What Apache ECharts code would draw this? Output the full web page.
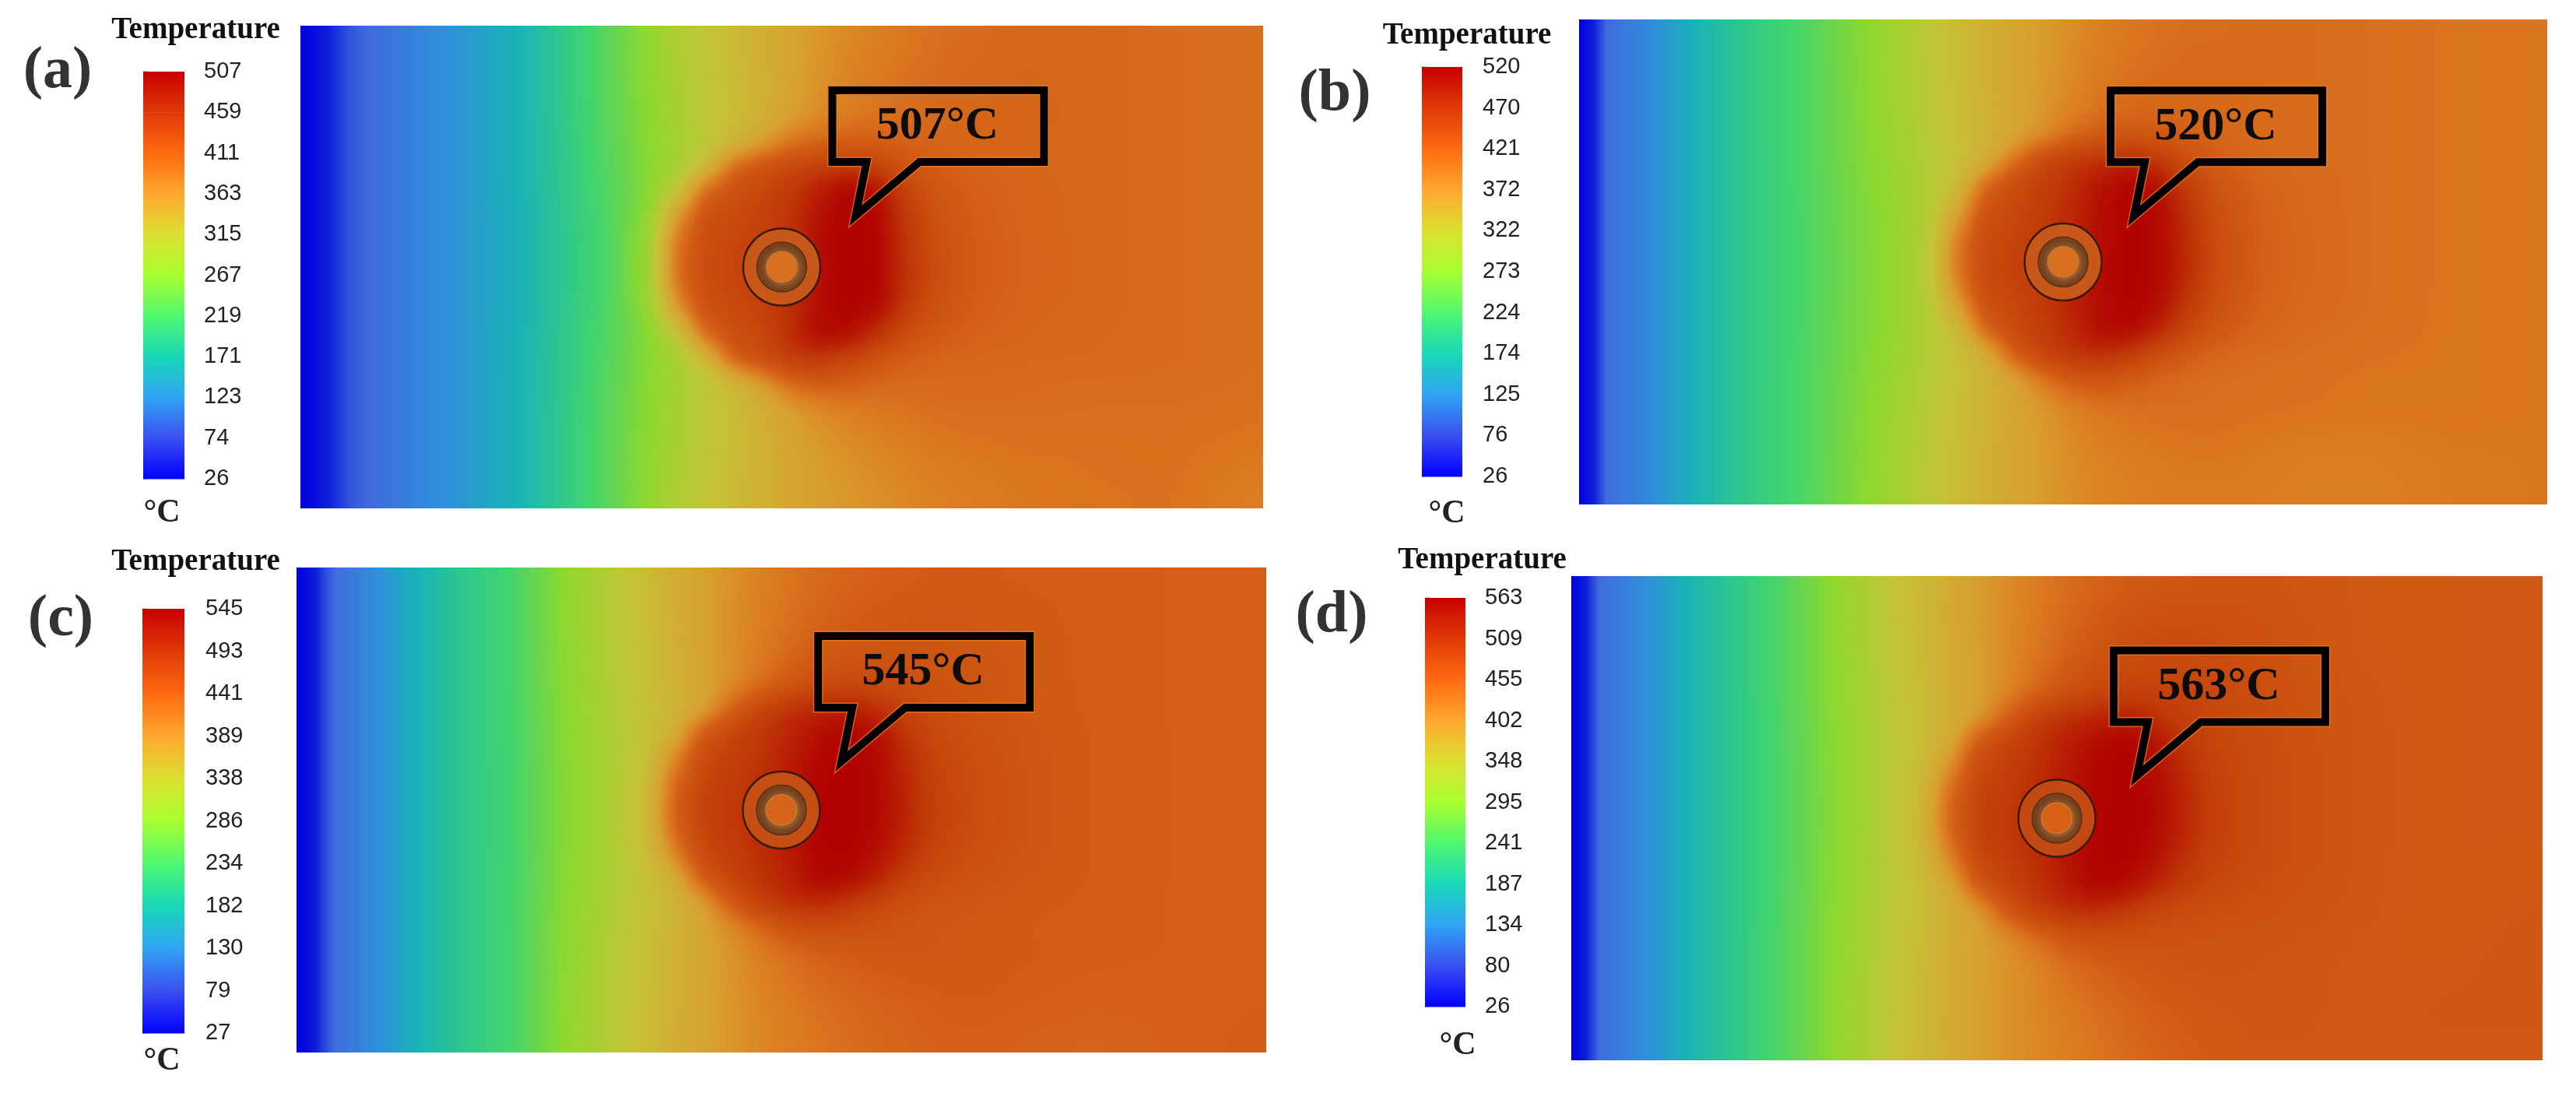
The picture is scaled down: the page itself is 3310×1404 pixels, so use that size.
<!DOCTYPE html>
<html><head><meta charset="utf-8">
<style>html,body{margin:0;padding:0;background:#fff}#c{width:3310px;height:1404px}</style>
<script src="https://cdn.jsdelivr.net/npm/echarts@6/dist/echarts.min.js"></script>
</head><body><div id="c"></div>
<script>
// ---------- data (temperature, °C) ----------
const colX = [0,.012,.03,.05,.08,.12,.17,.22,.27,.32,.36,.39,.42,.45,.48,.51,.54,.57,.60,.63,.66,.70,.75,.82,.90,1];
const rowY = [0,.1,.18,.24,.29,.34,.4,.46,.52,.58,.64,.69,.74,.8,.9,1];

const fieldA = [
[26,34,50,66,78,105,135,165,198,235,270,295,312,328,343,358,370,378,385,390,395,398,402,402,398,396],
[26,34,50,66,78,105,135,165,198,235,268,292,310,327,343,358,372,382,389,394,398,401,403,402,398,396],
[26,34,50,66,78,105,135,165,198,235,266,288,308,326,342,360,376,386,393,398,401,403,404,402,398,396],
[26,34,50,66,78,105,135,165,197,233,264,286,306,330,360,390,402,408,408,405,404,403,403,402,398,396],
[26,34,50,66,78,105,135,165,197,232,262,284,325,400,425,440,452,458,445,420,408,405,403,402,398,396],
[26,34,50,66,78,105,135,164,196,230,262,310,400,428,444,460,485,507,495,448,420,408,404,402,398,396],
[26,34,50,66,78,105,135,163,195,228,268,370,428,438,448,465,495,507,503,458,426,410,404,402,398,396],
[26,34,50,66,78,105,135,163,194,228,276,392,432,442,452,472,498,507,503,463,430,412,405,402,398,396],
[26,34,50,66,78,105,135,163,194,228,278,394,434,444,454,474,498,507,505,465,432,412,405,402,398,396],
[26,34,50,66,78,105,135,163,195,228,270,372,428,438,450,470,495,507,500,458,428,410,404,402,398,396],
[26,34,50,66,78,105,135,164,196,230,262,310,400,430,444,472,502,498,468,432,414,406,403,401,398,396],
[26,34,50,66,78,105,135,164,197,232,262,286,330,410,435,455,460,444,422,408,404,402,401,400,398,396],
[26,34,50,66,78,105,135,165,197,233,264,286,306,330,365,400,412,408,402,400,399,399,398,397,397,396],
[26,34,50,66,78,105,135,165,198,235,266,288,308,326,343,362,376,384,390,393,396,397,397,396,396,395],
[26,34,50,66,78,105,135,165,198,235,268,292,310,327,342,356,366,372,378,383,388,391,393,394,395,390],
[26,34,50,66,78,105,135,165,198,235,270,295,313,329,343,356,364,368,373,378,383,387,391,393,394,385]
];
const fieldB = [
[26,45,78,95,125,172,204,226,256,288,315,335,352,365,375,385,395,400,404,406,407,408,408,406,403,402],
[26,45,78,95,125,172,204,226,256,287,314,334,351,365,376,388,398,404,407,409,409,409,408,406,403,402],
[26,45,78,95,125,172,204,226,255,286,312,332,350,365,378,392,404,410,412,412,411,410,408,406,403,402],
[26,45,78,95,125,172,204,226,255,284,310,330,348,364,384,410,424,428,424,418,413,410,408,406,403,402],
[26,45,78,95,125,172,204,226,254,282,307,326,350,405,452,472,482,490,472,438,420,412,408,406,403,402],
[26,45,78,95,125,172,204,225,253,280,304,335,412,448,466,482,505,518,505,464,432,416,410,406,403,402],
[26,45,78,95,125,172,204,225,252,278,303,368,438,452,467,487,510,520,512,477,440,418,410,406,403,402],
[26,45,78,95,125,172,204,224,251,277,308,398,447,457,472,492,510,520,512,480,444,420,411,406,403,402],
[26,45,78,95,125,172,204,224,251,277,310,400,450,460,474,496,512,520,512,482,444,420,411,406,403,402],
[26,45,78,95,125,172,204,224,251,277,306,375,442,454,470,492,510,520,510,474,440,418,410,406,403,402],
[26,45,78,95,125,172,204,225,252,278,303,335,415,450,467,487,512,515,490,452,428,414,408,405,403,402],
[26,45,78,95,125,172,204,225,253,280,305,328,352,422,462,477,482,468,442,422,412,408,406,404,403,402],
[26,45,78,95,125,172,204,226,254,282,308,328,347,367,400,428,432,422,413,408,406,405,404,403,403,402],
[26,45,78,95,125,172,204,226,255,285,311,331,348,364,378,392,401,405,406,406,406,405,404,403,403,402],
[26,45,78,95,125,172,204,226,256,287,314,334,351,365,376,386,393,397,400,402,402,400,397,397,401,402],
[26,45,78,95,125,172,204,226,257,288,315,335,352,365,376,385,391,394,397,398,398,397,395,395,400,402]
];
const fieldC = [
[27,40,68,92,125,175,212,236,283,322,350,370,388,401,413,421,429,434,438,440,442,442,441,441,440,440],
[27,40,68,92,125,175,212,236,282,320,349,369,387,402,415,425,434,440,444,446,447,446,444,441,440,440],
[27,40,68,92,125,175,212,236,281,318,347,367,386,403,418,432,444,450,453,454,452,449,445,441,440,440],
[27,40,68,92,125,175,212,236,280,316,345,365,384,404,425,450,464,470,467,462,456,451,446,441,440,440],
[27,40,68,92,125,175,212,235,279,314,342,362,384,436,480,502,514,522,502,476,462,454,447,441,440,440],
[27,40,68,92,125,175,212,235,278,312,340,372,446,480,497,514,532,545,532,496,470,458,449,442,440,440],
[27,40,68,92,125,175,212,234,277,311,345,412,472,487,500,520,542,545,536,506,478,462,450,442,440,440],
[27,40,68,92,125,175,212,234,276,310,352,435,480,492,507,527,542,545,538,510,482,464,451,442,440,440],
[27,40,68,92,125,175,212,234,276,310,353,438,482,494,510,530,544,545,538,512,484,465,451,442,440,440],
[27,40,68,92,125,175,212,234,277,311,348,418,474,490,505,524,542,545,533,505,478,462,450,442,440,440],
[27,40,68,92,125,175,212,235,278,312,340,372,448,482,500,517,542,538,516,485,466,455,448,442,440,440],
[27,40,68,92,125,175,212,235,279,314,342,362,390,450,492,507,512,496,476,460,452,448,444,441,440,440],
[27,40,68,92,125,175,212,236,280,316,344,364,383,406,432,458,464,461,455,450,447,445,442,441,440,440],
[27,40,68,92,125,175,212,236,281,318,347,366,383,400,414,426,437,443,446,447,447,446,443,441,440,440],
[27,40,68,92,125,175,212,236,282,320,349,368,384,398,410,418,425,430,435,438,441,442,440,438,438,440],
[27,40,68,92,125,175,212,236,283,322,350,370,385,398,408,415,421,426,431,434,437,438,436,434,438,442]
];
const fieldD = [
[26,45,82,103,135,188,219,254,298,340,368,388,405,418,429,440,447,453,458,461,463,465,463,460,458,458],
[26,45,82,103,135,188,219,254,297,338,366,387,405,419,432,446,458,470,476,478,476,472,466,460,458,458],
[26,45,82,103,135,188,219,254,296,336,364,385,403,420,436,454,470,482,486,486,482,476,468,461,458,458],
[26,45,82,103,135,188,219,254,295,334,362,383,402,422,448,474,490,498,498,494,488,480,470,462,458,458],
[26,45,82,103,135,188,219,253,294,332,360,382,403,452,502,520,530,535,520,500,490,482,472,463,458,458],
[26,45,82,103,135,188,219,253,293,330,358,388,462,497,515,535,552,562,548,515,492,482,472,463,458,458],
[26,45,82,103,135,188,219,252,292,329,362,420,488,503,520,540,558,563,552,525,498,484,473,463,458,458],
[26,45,82,103,135,188,219,252,291,328,368,446,496,508,525,545,558,563,555,530,500,485,473,463,458,458],
[26,45,82,103,135,188,219,252,291,328,370,448,498,510,528,548,560,563,555,530,502,486,473,463,458,458],
[26,45,82,103,135,188,219,252,292,329,366,425,491,505,522,545,560,563,550,522,497,484,473,463,458,458],
[26,45,82,103,135,188,219,253,293,330,358,390,464,498,518,538,560,555,530,505,490,480,471,462,458,460],
[26,45,82,103,135,188,219,253,294,332,360,382,405,467,505,522,525,510,492,483,478,474,468,462,458,462],
[26,45,82,103,135,188,219,254,295,334,362,383,400,418,445,470,478,478,474,472,470,468,465,461,458,464],
[26,45,82,103,135,188,219,254,296,336,364,385,400,412,424,440,452,460,464,466,466,465,463,460,460,464],
[26,45,82,103,135,188,219,254,297,338,366,387,402,412,421,430,438,447,454,458,461,463,462,460,462,462],
[26,45,82,103,135,188,219,254,298,340,368,388,402,412,420,427,434,441,448,453,457,460,461,460,460,460]
];

const ticksA = ['26','74','123','171','219','267','315','363','411','459','507'];
const ticksB = ['26','76','125','174','224','273','322','372','421','470','520'];
const ticksC = ['27','79','130','182','234','286','338','389','441','493','545'];
const ticksD = ['26','80','134','187','241','295','348','402','455','509','563'];

const letters = ['(a)','(b)','(c)','(d)'];
const peaks = ['507°C','520°C','545°C','563°C'];
const unitText = '°C';
const titleText = 'Temperature';

// ---------- colours ----------
const barColors = ['#0000ff','#3a50f0','#30a4f4','#18d8b8','#50f870','#a8ff30','#dce030','#ffa830','#ff6a10','#e03a08','#c80000'];
const fieldStops = [[0,'#0000e0'],[.05,'#0f20d8'],[.1,'#3f6cdc'],[.2,'#2f90dc'],[.3,'#1ab4b4'],[.4,'#40d470'],[.5,'#8cd830'],[.6,'#c4c438'],[.7,'#d8a030'],[.75,'#dc7c22'],[.8,'#d25c14'],[.9,'#c03a08'],[1,'#b00000']];

// ---------- layout ----------
const layout = [
 {field:{left:386,top:33,width:1237,height:620}, bar:{left:184,top:92,width:53,height:523}, margin:25, tip:[.5703,.4145], disk:'#d8701f', band:'#c8581a',
  title:[251.5,39], letter:[74,92], unit:[208,659]},
 {field:{left:2029,top:25,width:1244,height:623}, bar:{left:1827,top:86,width:52,height:526}, margin:26, tip:[.5667,.4258], disk:'#d8701f', band:'#c8581a',
  title:[1885,46], letter:[1715,121], unit:[1859,660]},
 {field:{left:381,top:729,width:1246,height:623}, bar:{left:183,top:782,width:54,height:545}, margin:27, tip:[.5556,.4205], disk:'#d66418', band:'#c44e14',
  title:[251.5,722], letter:[78,796], unit:[208,1363]},
 {field:{left:2019,top:740,width:1248,height:622}, bar:{left:1831,top:768,width:52,height:525}, margin:25, tip:[.576,.4333], disk:'#d66014', band:'#c24a12',
  title:[1904.5,720], letter:[1711,791], unit:[1873,1343]}
];
const fields = [fieldA, fieldB, fieldC, fieldD];
const ticks = [ticksA, ticksB, ticksC, ticksD];

// callout outline, px relative to its tip
const calloutPath = [[-22,-174],[250,-174],[250,-82],[90,-82],[8,-13],[22,-82],[-22,-82]];
const calloutText = [113,-127];

function rgb(h){return [parseInt(h.slice(1,3),16),parseInt(h.slice(3,5),16),parseInt(h.slice(5,7),16)];}
const lut = (function(){
  const out=[]; let s=0;
  for(let i=0;i<=1000;i++){
    const f=i/1000;
    while(s<fieldStops.length-2 && f>fieldStops[s+1][0]) s++;
    const a=fieldStops[s], b=fieldStops[s+1], t=(f-a[0])/(b[0]-a[0]);
    const ca=rgb(a[1]), cb=rgb(b[1]);
    out.push([ca[0]+(cb[0]-ca[0])*t, ca[1]+(cb[1]-ca[1])*t, ca[2]+(cb[2]-ca[2])*t]);
  }
  return out;
})();

// Paint-time raster of a panel: the read values, shaded across the pixels and softened.
const rasters={};
function raster(p,W,H){
  if(rasters[p]) return rasters[p];
  const F=fields[p], A=new Float32Array(W*H);
  let r=0;
  for(let y=0;y<H;y++){
    const fy=(y+.5)/H;
    while(r<rowY.length-2 && fy>rowY[r+1]) r++;
    const ty=(fy-rowY[r])/(rowY[r+1]-rowY[r]);
    let c=0;
    for(let x=0;x<W;x++){
      const fx=(x+.5)/W;
      while(c<colX.length-2 && fx>colX[c+1]) c++;
      const tx=(fx-colX[c])/(colX[c+1]-colX[c]);
      A[y*W+x]=(F[r][c]*(1-tx)+F[r][c+1]*tx)*(1-ty)+(F[r+1][c]*(1-tx)+F[r+1][c+1]*tx)*ty;
    }
  }
  for(let pass=0;pass<2;pass++){
    const P=new Float64Array(W+1);
    for(let y=0;y<H;y++){
      for(let x=0;x<W;x++) P[x+1]=P[x]+A[y*W+x];
      for(let x=0;x<W;x++){
        const rad=x<W*.1?1:(x<W*.16?4:8);
        const a=Math.max(0,x-rad), b=Math.min(W-1,x+rad);
        A[y*W+x]=(P[b+1]-P[a])/(b-a+1);
      }
    }
    const Q=new Float64Array(H+1), rv=14;
    for(let x=0;x<W;x++){
      for(let y=0;y<H;y++) Q[y+1]=Q[y]+A[y*W+x];
      for(let y=0;y<H;y++){
        const a=Math.max(0,y-rv), b=Math.min(H-1,y+rv);
        A[y*W+x]=(Q[b+1]-Q[a])/(b-a+1);
      }
    }
  }
  rasters[p]=A;
  return A;
}
function cellImage(p,L,x,y,w,h,lo,hi){
  const W=L.field.width, H=L.field.height, A=raster(p,W,H);
  const cv=document.createElement('canvas'); cv.width=w; cv.height=h;
  const g=cv.getContext('2d'), im=g.createImageData(w,h), d=im.data;
  const x0=x-L.field.left, y0=y-L.field.top;
  let k=0;
  for(let j=0;j<h;j++){
    const yy=Math.max(0,Math.min(H-1,y0+j));
    for(let i=0;i<w;i++){
      const xx=Math.max(0,Math.min(W-1,x0+i));
      const c=lut[Math.max(0,Math.min(1000,Math.round((A[yy*W+xx]-lo)/(hi-lo)*1000)))];
      d[k++]=c[0];d[k++]=c[1];d[k++]=c[2];d[k++]=255;
    }
  }
  g.putImageData(im,0,0);
  return cv;
}

const grid=[],xAxis=[],yAxis=[],series=[],graphic=[];
const serif='"Liberation Serif","Times New Roman",serif';
function label(pos,text,size,color){
  graphic.push({type:'text',x:pos[0],y:pos[1],silent:true,z:50,
    style:{text:text,fill:color,font:'bold '+size+'px '+serif,textAlign:'center',textVerticalAlign:'middle'}});
}

layout.forEach(function(L,p){
  const lo=+ticks[p][0], hi=+ticks[p][10], F=fields[p];
  // field grid
  grid.push(L.field);
  xAxis.push({gridIndex:2*p,type:'value',min:0,max:1,show:false});
  yAxis.push({gridIndex:2*p,type:'value',min:0,max:1,inverse:true,show:false});
  const cells=[];
  for(let r=0;r<rowY.length-1;r++) for(let c=0;c<colX.length-1;c++)
    cells.push([colX[c],rowY[r],colX[c+1],rowY[r+1],F[r][c]]);
  series.push({type:'custom',name:'field'+p,xAxisIndex:2*p,yAxisIndex:2*p,silent:true,animation:false,clip:false,z:1,
    encode:{x:[0,2],y:[1,3]},data:cells,
    renderItem:function(params,api){
      const a=api.coord([api.value(0),api.value(1)]), b=api.coord([api.value(2),api.value(3)]);
      const x=Math.round(a[0]),y=Math.round(a[1]),w=Math.round(b[0])-x,h=Math.round(b[1])-y;
      return {type:'image',silent:true,style:{image:cellImage(p,L,x,y,w,h,lo,hi),x:x,y:y,width:w,height:h}};
    }});
  // ring + callout drawn over the field
  series.push({type:'custom',name:'marker'+p,xAxisIndex:2*p,yAxisIndex:2*p,silent:true,animation:false,clip:false,z:5,
    encode:{x:0,y:1},data:[[.5,.5,L.tip[0],L.tip[1]]],
    renderItem:function(params,api){
      const c=api.coord([api.value(0),api.value(1)]), t=api.coord([api.value(2),api.value(3)]);
      const pts=calloutPath.map(function(q){return [t[0]+q[0],t[1]+q[1]];});
      return {type:'group',children:[
        {type:'circle',shape:{cx:c[0],cy:c[1],r:49.5},style:{fill:L.band,stroke:'#3a1a0a',lineWidth:2.5}},
        {type:'circle',shape:{cx:c[0],cy:c[1],r:32},style:{fill:'#74421e',stroke:'#5a3014',lineWidth:1.5}},
        {type:'circle',shape:{cx:c[0]+1,cy:c[1]+1,r:25},style:{fill:'#a0622a',stroke:'#7e4a26',lineWidth:5,opacity:.8}},
        {type:'circle',shape:{cx:c[0],cy:c[1],r:19.5},style:{fill:L.disk,stroke:'#cc7c38',lineWidth:1.5}},
        {type:'polygon',shape:{points:pts},style:{fill:null,stroke:'#f07c20',lineWidth:13,lineJoin:'miter',miterLimit:12,opacity:.7}},
        {type:'polygon',shape:{points:pts},style:{fill:null,stroke:'#000',lineWidth:10,lineJoin:'miter',miterLimit:12}},
        {type:'text',x:t[0]+calloutText[0],y:t[1]+calloutText[1],style:{text:peaks[p],fill:'#0c0c0c',font:'bold 60px '+serif,textAlign:'center',textVerticalAlign:'middle'}}
      ]};
    }});
  // colour bar
  grid.push(L.bar);
  xAxis.push({gridIndex:2*p+1,type:'value',min:0,max:1,show:false});
  yAxis.push({gridIndex:2*p+1,type:'category',data:ticks[p],boundaryGap:false,position:'right',
    axisLine:{show:false},splitLine:{show:false},
    axisTick:{show:true,length:6,alignWithLabel:true,lineStyle:{color:'#bbbbbb',width:1.5}},
    axisLabel:{show:true,interval:0,margin:L.margin,color:'#222',fontFamily:'"Liberation Sans"',fontSize:29}});
  series.push({type:'custom',name:'bar'+p,xAxisIndex:2*p+1,yAxisIndex:2*p+1,silent:true,animation:false,clip:false,z:2,
    encode:{y:0},data:ticks[p].slice(0,10).map(function(_,i){return [i];}),
    renderItem:function(params,api){
      const i=api.value(0);
      const s=api.coord([0,i]), e=api.coord([1,i+1]);
      return {type:'rect',shape:{x:s[0],y:e[1],width:e[0]-s[0],height:s[1]-e[1]+.5},
        style:{fill:new echarts.graphic.LinearGradient(0,1,0,0,[{offset:0,color:barColors[i]},{offset:1,color:barColors[i+1]}])}};
    }});
  label(L.title,titleText,39,'#111');
  label(L.letter,letters[p],76,'#333');
  label(L.unit,unitText,42,'#222');
});

const chart=echarts.init(document.getElementById('c'),null,{renderer:'canvas',width:3310,height:1404});
chart.setOption({backgroundColor:'#fff',animation:false,tooltip:{show:false},grid:grid,xAxis:xAxis,yAxis:yAxis,series:series,graphic:graphic});
</script></body></html>
